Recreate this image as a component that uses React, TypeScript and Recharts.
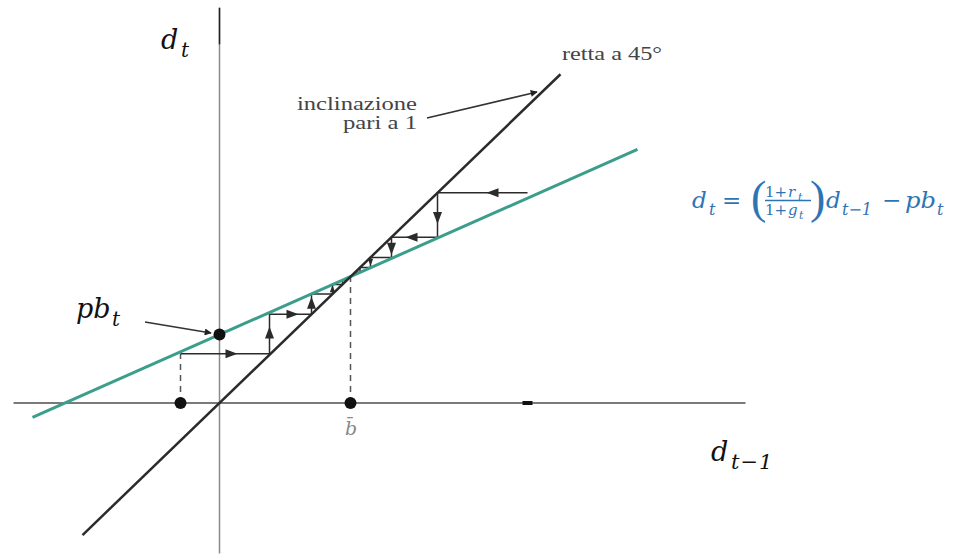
import React from 'react';
import { ComposedChart, Line, Scatter, XAxis, YAxis } from 'recharts';

// Data coordinates (axes cross at 0,0; 45° line is y = x)
const xDomain = [-21.95, 73.45];
const yDomain = [-15.87, 41.8];

const axisH = [{ x: -20.6, y: 0 }, { x: 52.6, y: 0 }];
const axisV = [{ x: 0, y: 41.0 }, { x: 0, y: -15.6 }];
const axisVTop = [{ x: 0, y: 41.0 }, { x: 0, y: 37.2 }];
const line45 = [{ x: -13.7, y: -13.7 }, { x: 34.1, y: 34.1 }];
const greenLine = [{ x: -18.7, y: -1.5 }, { x: 41.8, y: 26.3 }];

const dashLeft = [{ x: -3.9, y: 0 }, { x: -3.9, y: 5.1 }];
const dashBar = [{ x: 13.1, y: 0 }, { x: 13.1, y: 13.1 }];

const stairsLeft = [
  { x: -3.9, y: 5.1 }, { x: 5.0, y: 5.1 }, { x: 5.0, y: 9.2 }, { x: 9.2, y: 9.2 },
  { x: 9.2, y: 11.3 }, { x: 11.3, y: 11.3 }, { x: 11.3, y: 12.3 }, { x: 12.3, y: 12.3 },
  { x: 12.3, y: 12.75 }, { x: 12.75, y: 12.75 },
];
const stairsRight = [
  { x: 30.8, y: 21.8 }, { x: 21.8, y: 21.8 }, { x: 21.8, y: 17.2 }, { x: 17.2, y: 17.2 },
  { x: 17.2, y: 15.1 }, { x: 15.1, y: 15.1 }, { x: 15.1, y: 14.05 }, { x: 14.05, y: 14.05 },
  { x: 14.05, y: 13.55 }, { x: 13.55, y: 13.55 },
];
const arrowHeads = [
  { x: 1.2, y: 5.1, dir: 'right', s: 1 },
  { x: 5.0, y: 7.3, dir: 'up', s: 1 },
  { x: 7.3, y: 9.2, dir: 'right', s: 1 },
  { x: 9.2, y: 10.4, dir: 'up', s: 1 },
  { x: 11.3, y: 11.85, dir: 'up', s: 0.6 },
  { x: 27.3, y: 21.8, dir: 'left', s: 1 },
  { x: 21.8, y: 19.2, dir: 'down', s: 1 },
  { x: 19.2, y: 17.2, dir: 'left', s: 1 },
  { x: 17.2, y: 16.0, dir: 'down', s: 1 },
  { x: 15.1, y: 14.6, dir: 'down', s: 0.6 },
];
const dots = [{ x: -3.9, y: 0 }, { x: 0, y: 7.1 }, { x: 13.1, y: 0 }];
const axisDash = [{ x: 30.3, y: 0 }, { x: 31.3, y: 0 }];

const GREEN = '#3b9e8b';
const DARK = '#2b2b2b';
const BLUE = '#2e74b5';
const MATH = '"DejaVu Serif", serif';
const BOOK = '"Liberation Serif", serif';

const ArrowHead = (props: any) => {
  const { cx, cy, payload } = props;
  const s = payload.s || 1;
  const L = 6 * s, W = 4.5 * s;
  let pts = '';
  if (payload.dir === 'right') pts = `${cx + L},${cy} ${cx - L},${cy - W} ${cx - L},${cy + W}`;
  if (payload.dir === 'left') pts = `${cx - L},${cy} ${cx + L},${cy - W} ${cx + L},${cy + W}`;
  if (payload.dir === 'up') pts = `${cx},${cy - L} ${cx - W},${cy + L} ${cx + W},${cy + L}`;
  if (payload.dir === 'down') pts = `${cx},${cy + L} ${cx - W},${cy - L} ${cx + W},${cy - L}`;
  return <polygon points={pts} fill={DARK} />;
};

const Dot = (props: any) => <circle cx={props.cx} cy={props.cy} r={6} fill="#111" />;

const seg = (data: any[], stroke: string, width: number, dash?: string, key?: string) => (
  <Line
    key={key}
    data={data}
    dataKey="y"
    type="linear"
    stroke={stroke}
    strokeWidth={width}
    strokeDasharray={dash}
    dot={false}
    activeDot={false}
    isAnimationActive={false}
    legendType="none"
  />
);

const M = (p: any) => (
  <text fontFamily={MATH} fontStyle="italic" {...p} />
);

export default function App() {
  return (
    <div style={{ position: 'absolute', left: 0, top: 0, width: 954, height: 556, background: '#fff' }}>
      <ComposedChart width={954} height={556} margin={{ top: 0, right: 0, bottom: 0, left: 0 }}>
        <XAxis type="number" dataKey="x" domain={xDomain} allowDataOverflow hide />
        <YAxis type="number" dataKey="y" domain={yDomain} allowDataOverflow hide />
        {seg(axisH, '#7a7a7a', 2, undefined, 'ah')}
        {seg(axisV, '#8a8a8a', 1.5, undefined, 'av')}
        {seg(axisVTop, '#222', 1.5, undefined, 'avt')}
        {seg(axisDash, '#111', 4, undefined, 'ad')}
        {seg(dashLeft, '#555', 1.5, '6 5', 'dl')}
        {seg(dashBar, '#555', 1.5, '6 5', 'db')}
        {seg(stairsLeft, DARK, 1.5, undefined, 'sl')}
        {seg(stairsRight, DARK, 1.5, undefined, 'sr')}
        {seg(greenLine, GREEN, 3, undefined, 'gl')}
        {seg(line45, DARK, 2.5, undefined, 'l45')}
        <Scatter data={arrowHeads} dataKey="y" shape={ArrowHead} isAnimationActive={false} legendType="none" />
        <Scatter data={dots} dataKey="y" shape={Dot} isAnimationActive={false} legendType="none" />
      </ComposedChart>
      <svg width={954} height={556} style={{ position: 'absolute', left: 0, top: 0, pointerEvents: 'none' }}>
        <defs>
          <marker id="ah" viewBox="0 0 10 10" refX="9" refY="5" markerWidth="9" markerHeight="7" orient="auto" markerUnits="userSpaceOnUse">
            <path d="M0,0 L10,5 L0,10 z" fill="#222" />
          </marker>
        </defs>
        {/* annotation arrows */}
        <line x1={145} y1={322} x2={211} y2={333} stroke="#333" strokeWidth={1.5} markerEnd="url(#ah)" />
        <line x1={427} y1={118} x2={537} y2={92} stroke="#333" strokeWidth={1.5} markerEnd="url(#ah)" />

        {/* axis labels */}
        <M x={161} y={49} fontSize={27} fill="#111">d</M>
        <M x={181} y={57} fontSize={20} fill="#111">t</M>
        <M x={76} y={318} fontSize={27} fill="#111">pb</M>
        <M x={112} y={326} fontSize={20} fill="#111">t</M>
        <M x={711} y={461} fontSize={27} fill="#111">d</M>
        <M x={731} y={469} fontSize={21} fill="#111" letterSpacing={1}>t−1</M>
        <M x={345} y={435} fontSize={19} fill="#888">b̄</M>

        {/* book annotations */}
        <text x={297} y={110} fontFamily={BOOK} fontSize={19} fill="#444" textLength={120} lengthAdjust="spacingAndGlyphs">inclinazione</text>
        <text x={343} y={129} fontFamily={BOOK} fontSize={19} fill="#444" textLength={74} lengthAdjust="spacingAndGlyphs">pari a 1</text>
        <text x={562} y={60} fontFamily={BOOK} fontSize={19} fill="#444" textLength={100} lengthAdjust="spacingAndGlyphs">retta a 45°</text>

        {/* blue formula */}
        <g fill={BLUE}>
          <M x={692} y={208} fontSize={23}>d</M>
          <M x={709} y={215} fontSize={16}>t</M>
          <text x={722} y={208} fontSize={23} fontFamily={MATH}>=</text>
          <text x={751} y={213} fontSize={46} fontFamily={BOOK}>(</text>
          <text x={765} y={197} fontSize={15} fontFamily={MATH}>1+</text>
          <M x={788} y={197} fontSize={15}>r</M>
          <M x={798} y={201} fontSize={11}>t</M>
          <line x1={765} y1={200.5} x2={811} y2={200.5} stroke={BLUE} strokeWidth={1.4} />
          <text x={765} y={215} fontSize={15} fontFamily={MATH}>1+</text>
          <M x={788} y={215} fontSize={15}>g</M>
          <M x={799} y={219} fontSize={11}>t</M>
          <text x={810} y={213} fontSize={46} fontFamily={BOOK}>)</text>
          <M x={826} y={208} fontSize={23}>d</M>
          <M x={842} y={215} fontSize={16}>t−1</M>
          <text x={882} y={208} fontSize={23} fontFamily={MATH}>−</text>
          <M x={905} y={208} fontSize={23} textLength={31} lengthAdjust="spacingAndGlyphs">pb</M>
          <M x={937} y={215} fontSize={16}>t</M>
        </g>
      </svg>
    </div>
  );
}
